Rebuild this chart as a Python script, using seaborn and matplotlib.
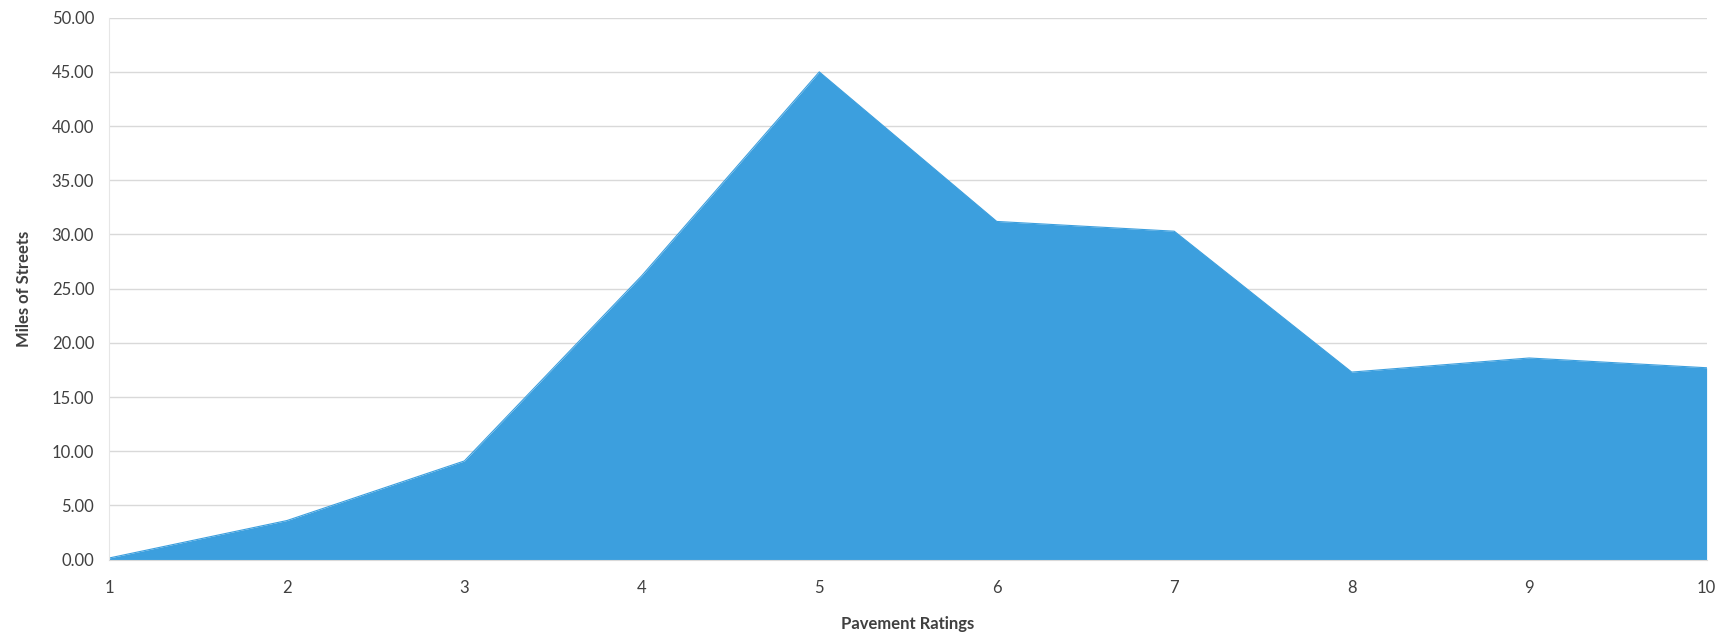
import matplotlib
matplotlib.use("Agg")
import matplotlib.pyplot as plt
import pandas as pd
import seaborn as sns

# pavement rating vs miles of streets
ratings = [1, 2, 3, 4, 5, 6, 7, 8, 9, 10]
miles = [0.15, 3.6, 9.1, 26.2, 45.0, 31.2, 30.3, 17.3, 18.6, 17.7]
y_ticks = [0, 5, 10, 15, 20, 25, 30, 35, 40, 45, 50]

df = pd.DataFrame({"Pavement Ratings": ratings, "Miles of Streets": miles})

sns.set_style("white")
plt.rcParams["font.family"] = ["Lato", "DejaVu Sans"]

fill_color = "#3C9FDE"
text_color = "#404040"

fig, ax = plt.subplots(figsize=(17.34, 6.32), dpi=100)
fig.subplots_adjust(left=0.0631, right=0.9842, top=0.972, bottom=0.1146)

sns.lineplot(data=df, x="Pavement Ratings", y="Miles of Streets", ax=ax,
             color=fill_color, linewidth=0.8)
ax.fill_between(df["Pavement Ratings"], df["Miles of Streets"], 0,
                color=fill_color, linewidth=0, zorder=2)

ax.set_xlim(1, 10)
ax.set_ylim(0, 50)
ax.set_xticks(ratings)
ax.set_xticklabels([str(r) for r in ratings], fontsize=12, color=text_color)
ax.set_yticks(y_ticks)
ax.set_yticklabels(["{:.2f}".format(v) for v in y_ticks], fontsize=12,
                   color=text_color)

ax.yaxis.grid(True, color="#d9d9d9", linewidth=1)
ax.set_axisbelow(True)
for side in ["top", "right"]:
    ax.spines[side].set_visible(False)
ax.spines["left"].set_color("#e6e6e6")
ax.spines["bottom"].set_color("#d9d9d9")

ax.tick_params(axis="x", length=5, color="#d9d9d9", pad=10)
ax.tick_params(axis="y", length=0, pad=11)

ax.set_xlabel("Pavement Ratings", fontsize=12, fontweight="bold",
              color=text_color, labelpad=14)
ax.set_ylabel("Miles of Streets", fontsize=12, fontweight="bold",
              color=text_color, labelpad=14)

plt.savefig("out.png", dpi=100)
